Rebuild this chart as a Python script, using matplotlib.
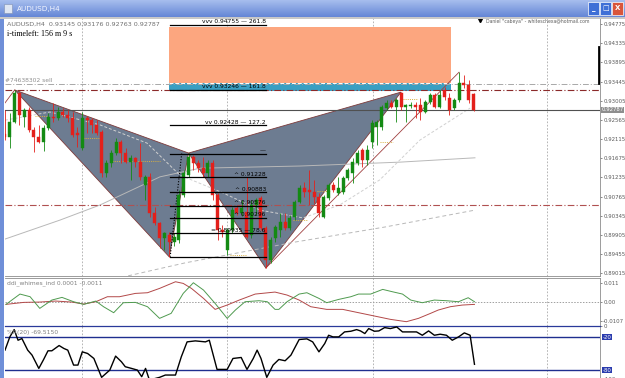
import matplotlib
matplotlib.use("Agg")
import matplotlib.pyplot as plt
import matplotlib.transforms as mtransforms
from matplotlib.patches import Rectangle, Polygon
import numpy as np

W, H = 625, 378

# ---------------- data ----------------
opens = [0.9223, 0.9216, 0.9251, 0.9318, 0.9262, 0.9279, 0.9232, 0.9216, 0.9205, 0.9237,
         0.9262, 0.9260, 0.9274, 0.9267, 0.9260, 0.9225, 0.9191, 0.9260, 0.9255, 0.9244,
         0.9228, 0.9133, 0.9156, 0.9179, 0.9205, 0.9179, 0.9158, 0.9168, 0.9158, 0.9105,
         0.9124, 0.9040, 0.9017, 0.8982, 0.8989, 0.8973, 0.8978, 0.9082, 0.9128, 0.9170,
         0.9156, 0.9144, 0.9133, 0.9156, 0.9082, 0.9001, 0.8955, 0.9001, 0.9052, 0.9040,
         0.9043, 0.8989, 0.9059, 0.9075, 0.9006, 0.8932, 0.8982, 0.9001, 0.9020, 0.9006,
         0.9031, 0.9066, 0.9098, 0.9094, 0.9089, 0.9077, 0.9031, 0.9075, 0.9105, 0.9087,
         0.9089, 0.9121, 0.9133, 0.9156, 0.9186, 0.9163, 0.9205, 0.9239, 0.9239, 0.9283,
         0.9295, 0.9285, 0.9318, 0.9285, 0.9288, 0.9290, 0.9290, 0.9274, 0.9297, 0.9313,
         0.9285, 0.9325, 0.9306, 0.9283, 0.9302, 0.9341, 0.9336, 0.93145]
highs = [0.9279, 0.9272, 0.9325, 0.9320, 0.9283, 0.9286, 0.9239, 0.9244, 0.9244, 0.9272,
         0.9295, 0.9286, 0.9283, 0.9279, 0.9274, 0.9239, 0.9274, 0.9265, 0.9260, 0.9255,
         0.9232, 0.9163, 0.9186, 0.9214, 0.9209, 0.9191, 0.9174, 0.9170, 0.9202, 0.9128,
         0.9133, 0.9054, 0.9020, 0.8996, 0.8996, 0.8994, 0.9094, 0.9140, 0.9179, 0.9174,
         0.9163, 0.9170, 0.9163, 0.9163, 0.9087, 0.9013, 0.9006, 0.9054, 0.9059, 0.9070,
         0.9124, 0.9070, 0.9075, 0.9080, 0.9010, 0.8985, 0.9013, 0.9040, 0.9040, 0.9036,
         0.9070, 0.9105, 0.9112, 0.9140, 0.9117, 0.9087, 0.9082, 0.9110, 0.9112, 0.9124,
         0.9126, 0.9144, 0.9168, 0.9186, 0.9191, 0.9198, 0.9255, 0.9255, 0.9290, 0.9302,
         0.9302, 0.9306, 0.9320, 0.9292, 0.9297, 0.9297, 0.9306, 0.9302, 0.9318, 0.9318,
         0.9325, 0.9332, 0.9318, 0.9306, 0.9366, 0.9360, 0.9348, 0.93176]
lows = [0.9209, 0.9191, 0.9248, 0.9244, 0.9239, 0.9228, 0.9181, 0.9202, 0.9184, 0.9232,
        0.9251, 0.9255, 0.9262, 0.9251, 0.9216, 0.9193, 0.9186, 0.9225, 0.9225, 0.9221,
        0.9124, 0.9124, 0.9147, 0.9174, 0.9156, 0.9156, 0.9117, 0.9147, 0.9117, 0.9070,
        0.9031, 0.9013, 0.8959, 0.8955, 0.8939, 0.8964, 0.8971, 0.9077, 0.9124, 0.9140,
        0.9135, 0.9124, 0.9124, 0.9070, 0.8978, 0.8985, 0.8943, 0.8994, 0.9036, 0.9033,
        0.8982, 0.8982, 0.9036, 0.9001, 0.8913, 0.8925, 0.8973, 0.8985, 0.9001, 0.9001,
        0.9024, 0.9063, 0.9077, 0.9059, 0.9063, 0.9031, 0.9029, 0.9070, 0.9089, 0.9082,
        0.9084, 0.9117, 0.9110, 0.9151, 0.9147, 0.9151, 0.9191, 0.9198, 0.9232, 0.9279,
        0.9283, 0.9251, 0.9279, 0.9251, 0.9283, 0.9260, 0.9255, 0.9272, 0.9292, 0.9283,
        0.9283, 0.9302, 0.9267, 0.9279, 0.9297, 0.9329, 0.9295, 0.92763]
closes = [0.9216, 0.9251, 0.9318, 0.9267, 0.9279, 0.9232, 0.9216, 0.9205, 0.9237, 0.9262,
          0.9260, 0.9274, 0.9267, 0.9260, 0.9221, 0.9221, 0.9260, 0.9255, 0.9244, 0.9225,
          0.9133, 0.9156, 0.9179, 0.9205, 0.9179, 0.9158, 0.9168, 0.9158, 0.9124, 0.9124,
          0.9040, 0.9017, 0.8982, 0.8994, 0.8973, 0.8985, 0.9082, 0.9133, 0.9170, 0.9156,
          0.9144, 0.9133, 0.9156, 0.9082, 0.9001, 0.8996, 0.9001, 0.9047, 0.9040, 0.9052,
          0.8985, 0.9059, 0.9070, 0.9006, 0.8932, 0.8978, 0.9008, 0.9020, 0.9006, 0.9029,
          0.9066, 0.9098, 0.9089, 0.9089, 0.9077, 0.9040, 0.9077, 0.9105, 0.9094, 0.9098,
          0.9121, 0.9140, 0.9158, 0.9179, 0.9163, 0.9186, 0.9248, 0.9251, 0.9285, 0.9295,
          0.9285, 0.9302, 0.9285, 0.9290, 0.9290, 0.9285, 0.9274, 0.9297, 0.9313, 0.9285,
          0.9313, 0.9309, 0.9279, 0.9302, 0.9341, 0.9336, 0.9302, 0.92787]

price_ticks = [0.94775, 0.94335, 0.93895, 0.93445, 0.93005, 0.92565, 0.92115,
               0.91675, 0.91235, 0.90765, 0.90345, 0.89905, 0.89455, 0.89015]

# harmonic pattern X, A, B, C, D (bar index, price)
pattern_x = [2, 34, 38, 54, 82]
pattern_p = [0.9325, 0.8939, 0.9179, 0.8913, 0.9320]
prior_leg_x = [0, 2]
prior_leg_p = [0.9295, 0.9325]
c_ext_x = [54, 94]
c_ext_p = [0.8913, 0.9366]
ab_dotted_x = [34.2, 36.6]
ab_dotted_p = [0.8939, 0.9179]

# target zones
zone_x = [33.9, 92.3]
orange_zone = [0.93417, 0.94712]
blue_zone = [0.93225, 0.93417]
blue_zone_dash = 0.9342

# fib levels
fib_x = [34.2, 54.0]
fib_prices = [0.94755, 0.93246, 0.92428, 0.91770, 0.91228, 0.90883, 0.90576, 0.90296, 0.89935, 0.89380]
fib_labels = ["vvv 0.94755 \u2014 261.8", "vvv 0.93246 \u2014 161.8", "vv 0.92428 \u2014 127.2", "\u2014",
              "^ 0.91228", "^ 0.90883", "^ 0.90576", "^ 0.90296", "= 0.89935 \u2014 78.6", ""]

# horizontal lines
sell_line = 0.93387
red_line_top = 0.93237
red_line_low = 0.90588
bid_price = 0.92787

# moving averages (sparse points)
ma_slow_x = [0, 11.4, 19.7, 32.1, 40.4, 61.1, 81.8, 97.3]
ma_slow_p = [0.8980, 0.9024, 0.9059, 0.9124, 0.9144, 0.9149, 0.9158, 0.9168]
ma_long_x = [25.5, 37.3, 60.0, 78.7, 97.3]
ma_long_p = [0.8895, 0.8925, 0.8973, 0.9008, 0.9047]
ma_fast_x = [0, 9.3, 19.7, 29.4, 36.2, 45.1, 52.8, 61.7, 69.3, 77.6, 85.9, 96.3]
ma_fast_p = [0.9255, 0.9274, 0.9244, 0.9202, 0.9128, 0.9087, 0.9047, 0.9029, 0.9059, 0.9117, 0.9209, 0.9283]

# small yellow dotted markers (x0, x1, price)
yellow_x0 = [6.2, 16.2, 21.7, 46.6, 59.6, 64.6, 77.6, 82.4]
yellow_x1 = [8.9, 19.7, 32.1, 50.1, 62.5, 67.3, 80.3, 85.5]
yellow_p = [0.9265, 0.9214, 0.9161, 0.8943, 0.9024, 0.9091, 0.9205, 0.9304]

period_sep = [15.9, 46.0, 76.2, 112.2]

# indicator 1 (ddi_whimes_ind)
ind_green_x = [0.2, 3.1, 5.2, 7.2, 9.7, 11.8, 14.2, 16.3, 18.8, 20.4, 22.5, 24.5, 27.0, 29.5, 32.0,
               34.4, 36.9, 39.0, 41.1, 43.5, 46.0, 47.7, 49.7, 52.6, 54.3, 55.9, 56.7, 58.4, 60.9,
               62.5, 65.0, 66.6, 69.1, 71.6, 73.2, 75.7, 78.2, 80.2, 82.3, 84.0, 86.4, 88.9, 91.4,
               93.9, 95.9, 97.2]
ind_green = [-0.00116, 0.00473, 0.00321, -0.00344, 0.00131, 0.00283, 0.00036, -0.00116, 0.00074,
             -0.00249, -0.00591, -0.00021, -0.00002, -0.00249, -0.00914, -0.00629, 0.00511, 0.01119,
             0.00701, -0.00059, -0.00914, -0.00439, 0.00036, 0.00093, 0.00036, -0.00401, -0.00401,
             0.00036, 0.00473, 0.00549, 0.00226, -0.00021, 0.00169, 0.00321, 0.00473, 0.00473,
             0.00739, 0.00606, 0.00473, 0.00131, -0.00021, 0.00131, 0.00093, 0.00036, 0.00264, 0.00036]
ind_red_x = [0.2, 3.9, 7.2, 10.5, 13.8, 16.3, 18.8, 21.2, 23.7, 27.0, 29.5, 32.0, 35.3, 36.9, 38.6,
             41.1, 43.5, 46.0, 48.5, 51.8, 55.9, 58.4, 60.9, 63.3, 66.6, 69.9, 73.2, 76.5, 79.8,
             83.1, 85.6, 88.1, 89.7, 92.2, 94.7, 97.2]
ind_red = [-0.00116, -0.00002, 0.00017, 0.00074, 0.00017, -0.00097, 0.00036, 0.00321, 0.00321,
           0.00511, 0.00549, 0.00796, 0.01176, 0.01081, 0.00796, 0.00226, -0.00401, -0.00154,
           0.00131, 0.00473, 0.00587, 0.00416, 0.00131, -0.00249, -0.00401, -0.00401, -0.00591,
           -0.00781, -0.00971, -0.01104, -0.00914, -0.00629, -0.00439, -0.00249, -0.00154, -0.00116]
ind_ticks = [0.011, 0.0, -0.0107]
ind_tick_labels = ["0.011", "0.00", "-0.0107"]

# indicator 2 (%R)
wpr_x = [0, 1.0, 1.9, 2.7, 3.5, 4.7, 5.6, 7.0, 8.0, 8.9, 9.7, 11.2, 12.2, 13.0, 14.2, 15.1, 16.0,
         17.1, 18.4, 20.0, 21.7, 22.9, 24.1, 24.9, 26.2, 27.4, 28.3, 29.1, 29.9, 32.0, 33.2, 35.3,
         36.5, 37.7, 39.4, 41.5, 42.3, 43.9, 46.0, 47.2, 48.9, 50.1, 51.4, 52.2, 53.0, 54.2, 55.5,
         56.7, 58.0, 59.2, 60.9, 62.5, 63.7, 65.0, 66.2, 67.0, 67.9, 69.1, 70.3, 71.6, 72.8, 73.6,
         74.5, 75.3, 76.5, 77.4, 78.6, 79.8, 81.1, 82.3, 84.0, 85.2, 86.4, 87.7, 88.9, 90.1, 91.4,
         92.6, 93.9, 95.1, 96.3, 97.2]
wpr = [-43.6, -19.4, -6.1, -25.5, -22.4, -43.6, -52.7, -77.0, -60.6, -44.8, -44.8, -35.2, -40.6,
       -43.6, -70.9, -70.9, -46.7, -49.7, -58.8, -93.3, -80.0, -54.5, -64.8, -73.9, -77.0, -80.0,
       -92.1, -77.0, -98.2, -93.3, -89.1, -89.1, -55.8, -28.5, -26.7, -28.5, -25.5, -78.8, -78.8,
       -58.8, -57.0, -78.8, -58.8, -43.6, -58.8, -93.3, -70.9, -60.6, -63.0, -52.7, -24.2, -23.0,
       -28.5, -46.7, -31.5, -16.4, -19.4, -19.4, -10.3, -9.1, -6.1, -8.5, -13.3, -4.2, -9.1, -8.5,
       -2.4, -4.2, -1.2, -10.3, -10.3, -10.3, -16.4, -8.5, -16.4, -14.5, -16.4, -25.5, -19.4,
       -12.1, -16.4, -69.5]
wpr_levels = [-20, -80]

# ---------------- figure ----------------
fig = plt.figure(figsize=(W / 100, H / 100), dpi=100)
fig.patch.set_facecolor("#ffffff")


def fx(x):
    return x / W


def fy(y):
    return 1 - y / H


BULL = "#138a13"
BEAR = "#e3201b"
GRID = "#a9a9a9"
LBL = "#5a5a5a"
XMAX = (600 - 5) / 4.83
TICKFS = 3.9

ax1 = fig.add_axes([fx(5), fy(276), fx(600) - fx(5), fy(18) - fy(276)])
ax2 = fig.add_axes([fx(5), fy(326), fx(600) - fx(5), fy(278) - fy(326)])
ax3 = fig.add_axes([fx(5), 0, fx(600) - fx(5), fy(326)])

for ax in (ax1, ax2, ax3):
    ax.set_xlim(0, XMAX)
    ax.set_facecolor("#ffffff")
    ax.set_xticks([])
    for s in ax.spines.values():
        s.set_color("#8c8c8c")
        s.set_linewidth(0.6)
    ax.spines["left"].set_visible(False)
    ax.yaxis.tick_right()
    ax.tick_params(axis="y", labelsize=TICKFS, colors=LBL, length=1.5, width=0.5, pad=0.8)
    for v in period_sep:
        ax.axvline(v, color=GRID, lw=0.6, ls=(0, (2, 2)), zorder=1)

# ---- price panel ----
ax1.set_ylim(0.88946, 0.94914)
ax1.set_yticks(price_ticks)
ax1.set_yticklabels([f"{v:.5f}" for v in price_ticks])

ax1.add_patch(Rectangle((zone_x[0], orange_zone[0]), zone_x[1] - zone_x[0],
                        orange_zone[1] - orange_zone[0], fc="#fca67f", ec="none", zorder=1.5))
ax1.add_patch(Rectangle((zone_x[0], blue_zone[0]), zone_x[1] - zone_x[0],
                        blue_zone[1] - blue_zone[0], fc="#3a9fc2", ec="none", zorder=1.5))
ax1.plot(zone_x, [blue_zone_dash] * 2, color="white", lw=0.7, ls=(0, (4, 2)), zorder=1.6)

tri1 = [(pattern_x[i], pattern_p[i]) for i in (0, 1, 2)]
tri2 = [(pattern_x[i], pattern_p[i]) for i in (2, 3, 4)]
for tri in (tri1, tri2):
    ax1.add_patch(Polygon(tri, closed=True, fc="#6d7c91", ec="#7d3a3a", lw=0.6, zorder=2))
ax1.plot(prior_leg_x, prior_leg_p, color="#a04040", lw=0.6, zorder=2.1)
ax1.plot(c_ext_x, c_ext_p, color="#a04040", lw=0.6, zorder=2.1)
ax1.plot(ab_dotted_x, ab_dotted_p, color="black", lw=0.8, ls=(0, (1, 1.5)), zorder=4)

ax1.plot(ma_slow_x, ma_slow_p, color="#b8b8b8", lw=0.7, zorder=2.5)
ax1.plot(ma_long_x, ma_long_p, color="#b8b8b8", lw=0.7, ls=(0, (4, 3)), zorder=2.5)
ax1.plot(ma_fast_x, ma_fast_p, color="#d0d0d0", lw=0.7, ls=(0, (3, 2)), zorder=2.5)
for a, b, p in zip(yellow_x0, yellow_x1, yellow_p):
    ax1.plot([a, b], [p, p], color="#d8b040", lw=0.7, ls=(0, (1, 1.2)), zorder=2.6)

ax1.axhline(sell_line, color="#a8a8a8", lw=0.7, ls=(0, (6, 2, 1, 2)), zorder=3)
ax1.axhline(red_line_top, color="#8b2a2a", lw=0.8, ls=(0, (6, 2, 1, 2)), zorder=3)
ax1.axhline(red_line_low, color="#b05050", lw=0.8, ls=(0, (6, 2, 1, 2)), zorder=3)
ax1.axhline(bid_price, color="#505050", lw=0.8, zorder=3)

xs = np.arange(len(opens))
o = np.array(opens); c = np.array(closes); hi = np.array(highs); lo = np.array(lows)
cols = np.where(c >= o, BULL, BEAR)
ax1.vlines(xs, lo, hi, colors=cols, lw=0.6, zorder=5)
body_h = np.maximum(np.abs(c - o), 0.00008)
ax1.bar(xs, body_h, bottom=np.minimum(o, c), width=0.62, color=cols, edgecolor=cols,
        lw=0.3, zorder=5.5)

for p, lab in zip(fib_prices, fib_labels):
    ax1.plot(fib_x, [p, p], color="black", lw=0.9, zorder=6)
    if lab:
        ax1.text(fib_x[1], p + 0.00015, lab, fontsize=4.3, ha="right", va="bottom",
                 color="black", zorder=7)

ax1.text(0.004, 0.985, "AUDUSD,H4  0.93145 0.93176 0.92763 0.92787", transform=ax1.transAxes,
         fontsize=4.6, color="#707070", va="top", ha="left")
ax1.text(0.004, 0.955, "i-timeleft: 156 m 9 s", transform=ax1.transAxes, fontsize=5.8,
         family="Liberation Serif", color="black", va="top", ha="left")
ax1.text(0.006, sell_line + 0.0002, "#74638302 sell", fontsize=4.3, color="#909090",
         va="bottom", ha="left")
ax1.text(0.983, 0.995, 'Daniel "cabeya" - whiteschexa@hotmail.com', transform=ax1.transAxes,
         fontsize=3.3, color="#606060", va="top", ha="right")
ax1.plot([0.798], [0.993], marker="v", color="black", ms=3, transform=ax1.transAxes, clip_on=False)
tr1 = mtransforms.blended_transform_factory(ax1.transAxes, ax1.transData)
ax1.plot([0.9985, 0.9985], [0.93417, 0.94235], color="black", lw=2, transform=tr1, zorder=8)
ax1.text(1.003, bid_price, f"{bid_price:.5f}", transform=tr1, fontsize=TICKFS, color="white",
         va="center", ha="left",
         bbox=dict(boxstyle="square,pad=0.1", fc="#8e8e8e", ec="none"), zorder=9, clip_on=False)

# ---- indicator panel ----
ax2.set_ylim(-0.0135, 0.0139)
ax2.set_yticks(ind_ticks)
ax2.set_yticklabels(ind_tick_labels)
ax2.axhline(0, color="#a0a0a0", lw=0.7, ls=(0, (1.5, 1.5)), zorder=2)
ax2.plot(ind_red_x, ind_red, color="#b24848", lw=0.7, zorder=3)
ax2.plot(ind_green_x, ind_green, color="#4f9a4f", lw=0.7, zorder=3)
ax2.text(0.004, 0.96, "ddi_whimes_ind 0.0001 -0.0011", transform=ax2.transAxes, fontsize=4.3,
         color="#808080", va="top", ha="left")

# ---- %R panel ----
ax3.set_ylim(-94.5, 0.5)
ax3.set_yticks([0])
ax3.set_yticklabels(["0"])
ax3.spines["top"].set_color("#2a3a9a")
ax3.spines["top"].set_linewidth(0.9)
for lv in wpr_levels:
    ax3.axhline(lv, color="#1f2f8f", lw=1.0, zorder=2)
ax3.plot(wpr_x, wpr, color="black", lw=1.0, zorder=3)
tr3 = mtransforms.blended_transform_factory(ax3.transAxes, ax3.transData)
for lv in wpr_levels:
    ax3.text(1.004, lv, f"{lv}", transform=tr3, fontsize=TICKFS, color="white", va="center",
             ha="left", bbox=dict(boxstyle="square,pad=0.1", fc="#2b3cae", ec="none"),
             clip_on=False)
ax3.text(1.006, -97.5, "-100", transform=tr3, fontsize=TICKFS, color=LBL, va="center",
         ha="left", clip_on=False)
ax3.text(0.004, 0.93, "%R(20) -69.5150", transform=ax3.transAxes, fontsize=4.3,
         color="#808080", va="top", ha="left")

# ---- window chrome ----
axT = fig.add_axes([0, fy(17), 1, 17 / H])
grad = np.linspace(0, 1, 17)[:, None]
top = np.array([0.65, 0.74, 0.93]); bot = np.array([0.40, 0.53, 0.84])
img = top[None, None, :] * (1 - grad[:, :, None]) + bot[None, None, :] * grad[:, :, None]
axT.imshow(np.repeat(img, 10, axis=1), aspect="auto", extent=[0, 1, 0, 1])
axT.set_axis_off()
axT.text(fx(17), 0.5, "AUDUSD,H4", transform=axT.transAxes, fontsize=5.2, color="#f4f6ff",
         va="center", ha="left")
axT.add_patch(Rectangle((fx(4), 0.25), fx(8), 0.5, transform=axT.transAxes,
                        fc="#dfe6f3", ec="#8090b0", lw=0.4))
btns = [(588, "#3f6fd6", "_"), (600, "#3f6fd6", "\u25a1"), (612, "#d9553b", "X")]
for bx, bc, g in btns:
    axT.add_patch(Rectangle((fx(bx), 0.12), fx(11), 0.76, transform=axT.transAxes,
                            fc=bc, ec="white", lw=0.5))
    axT.text(fx(bx + 5.5), 0.5, g, transform=axT.transAxes, fontsize=5, color="white",
             ha="center", va="center", fontweight="bold")

fig.add_artist(Rectangle((0, 0), fx(4), fy(17), transform=fig.transFigure,
                         fc="#6f8fd8", ec="none"))
fig.add_artist(Rectangle((0, fy(19)), 1, 2 / H, transform=fig.transFigure,
                         fc="#c8c8c8", ec="none"))

fig.savefig("out.png", dpi=100)
